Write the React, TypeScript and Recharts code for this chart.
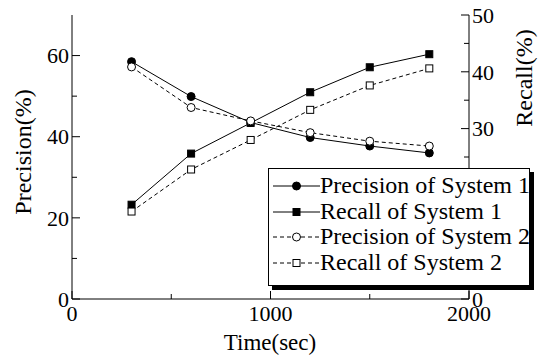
import { LineChart, Line, XAxis, YAxis, Legend } from 'recharts';

const times = [300, 600, 900, 1200, 1500, 1800];
const precision1 = [58.5, 49.9, 43.5, 39.8, 37.7, 36.0];
const recall1 = [16.6, 25.6, 31.0, 36.4, 40.8, 43.1];
const precision2 = [57.2, 47.2, 43.9, 41.0, 38.9, 37.7];
const recall2 = [15.4, 22.8, 28.0, 33.3, 37.6, 40.6];

const xTicks = [0, 500, 1000, 1500, 2000];
const leftTicks = [0, 10, 20, 30, 40, 50, 60];
const rightTicks = [0, 5, 10, 15, 20, 25, 30, 35, 40, 45, 50];

const seriesInfo = [
  { key: 'p1', name: 'Precision of System 1', axis: 'left', dashed: false, shape: 'circle', filled: true },
  { key: 'r1', name: 'Recall of System 1', axis: 'right', dashed: false, shape: 'square', filled: true },
  { key: 'p2', name: 'Precision of System 2', axis: 'left', dashed: true, shape: 'circle', filled: false },
  { key: 'r2', name: 'Recall of System 2', axis: 'right', dashed: true, shape: 'square', filled: false },
];

const data = times.map((t, i) => ({
  t,
  p1: precision1[i],
  r1: recall1[i],
  p2: precision2[i],
  r2: recall2[i],
}));

const FONT = 'Liberation Serif';
const DASH = '4 3';

function Marker({ cx, cy, shape, filled }: any) {
  if (cx == null || cy == null) return null;
  const fill = filled ? '#000' : '#fff';
  if (shape === 'square') {
    return <rect x={cx - 3.5} y={cy - 3.5} width={7} height={7} fill={fill} stroke="#000" strokeWidth={1} />;
  }
  return <circle cx={cx} cy={cy} r={4} fill={fill} stroke="#000" strokeWidth={1} />;
}

const BottomTick = ({ x, y, payload }: any) => {
  const major = payload.value % 1000 === 0;
  return (
    <g>
      <line x1={x} y1={y} x2={x} y2={y - (major ? 8 : 5)} stroke="#000" />
      {major && (
        <text x={x} y={y + 22} textAnchor="middle" fontFamily={FONT} fontSize={22} fill="#000">
          {payload.value}
        </text>
      )}
    </g>
  );
};

const TopTick = ({ x, y, payload }: any) => {
  const major = payload.value % 1000 === 0;
  return <line x1={x} y1={y} x2={x} y2={y + (major ? 8 : 5)} stroke="#000" />;
};

const LeftTick = ({ x, y, payload }: any) => {
  const major = payload.value % 20 === 0;
  return (
    <g>
      <line x1={x} y1={y} x2={x + (major ? 8 : 5)} y2={y} stroke="#000" />
      {major && (
        <text x={x - 3} y={y} dy="0.35em" textAnchor="end" fontFamily={FONT} fontSize={22} fill="#000">
          {payload.value}
        </text>
      )}
    </g>
  );
};

const RightTick = ({ x, y, payload }: any) => {
  const major = payload.value % 10 === 0;
  return (
    <g>
      <line x1={x} y1={y} x2={x - (major ? 8 : 5)} y2={y} stroke="#000" />
      {major && (
        <text x={x + 3} y={y} dy="0.35em" textAnchor="start" fontFamily={FONT} fontSize={22} fill="#000">
          {payload.value}
        </text>
      )}
    </g>
  );
};

const PrecisionTitle = () => (
  <text x={0} y={0} transform="translate(31,152) rotate(-90)" textAnchor="middle" fontFamily={FONT} fontSize={24} fill="#000">
    Precision(%)
  </text>
);

const RecallTitle = () => (
  <text x={0} y={0} transform="translate(532,78) rotate(-90)" textAnchor="middle" fontFamily={FONT} fontSize={24} fill="#000">
    Recall(%)
  </text>
);

const TimeTitle = () => (
  <text x={270} y={350} textAnchor="middle" fontFamily={FONT} fontSize={23} fill="#000">
    Time(sec)
  </text>
);

function LegendBox() {
  return (
    <div
      style={{
        width: 262,
        height: 118,
        boxSizing: 'border-box',
        background: '#fff',
        border: '1px solid #000',
        boxShadow: '4px 4px 0 #000',
        padding: '4px 0 0 4px',
        fontFamily: FONT,
        fontSize: 24,
        color: '#000',
      }}
    >
      {seriesInfo.map((s) => (
        <div key={s.key} style={{ display: 'flex', alignItems: 'center', height: 25.7, lineHeight: '25.7px', whiteSpace: 'nowrap' }}>
          <svg width={47} height={20} style={{ flex: 'none' }}>
            <line x1={0} y1={10} x2={47} y2={10} stroke="#000" strokeDasharray={s.dashed ? DASH : undefined} />
            <Marker cx={23.5} cy={10} shape={s.shape} filled={s.filled} />
          </svg>
          <span>{s.name}</span>
        </div>
      ))}
    </div>
  );
}

export default function App() {
  return (
    <div style={{ position: 'absolute', left: 0, top: 0, width: 541, height: 360, background: '#fff', fontFamily: FONT }}>
      <LineChart width={541} height={360} data={data} margin={{ top: 15, right: 12, bottom: 21, left: 12 }}>
        <XAxis
          dataKey="t"
          type="number"
          domain={[0, 2000]}
          ticks={xTicks}
          interval={0}
          height={40}
          tickSize={0}
          tickMargin={0}
          axisLine={{ stroke: '#000' }}
          tick={<BottomTick />}
          label={<TimeTitle />}
        />
        <XAxis
          xAxisId="top"
          orientation="top"
          dataKey="t"
          type="number"
          domain={[0, 2000]}
          ticks={xTicks}
          interval={0}
          height={0}
          tickSize={0}
          tickMargin={0}
          axisLine={{ stroke: '#000' }}
          tick={<TopTick />}
        />
        <YAxis
          yAxisId="left"
          type="number"
          domain={[0, 70]}
          ticks={leftTicks}
          interval={0}
          width={60}
          tickSize={0}
          tickMargin={0}
          axisLine={{ stroke: '#000' }}
          tick={<LeftTick />}
          label={<PrecisionTitle />}
        />
        <YAxis
          yAxisId="right"
          orientation="right"
          type="number"
          domain={[0, 50]}
          ticks={rightTicks}
          interval={0}
          width={60}
          tickSize={0}
          tickMargin={0}
          axisLine={{ stroke: '#000' }}
          tick={<RightTick />}
          label={<RecallTitle />}
        />
        {seriesInfo.map((s) => (
          <Line
            key={s.key}
            yAxisId={s.axis}
            dataKey={s.key}
            name={s.name}
            type="linear"
            stroke="#000"
            strokeWidth={1}
            strokeDasharray={s.dashed ? DASH : undefined}
            dot={(p: any) => <Marker key={`${s.key}-${p.index}`} cx={p.cx} cy={p.cy} shape={s.shape} filled={s.filled} />}
            activeDot={false}
            isAnimationActive={false}
          />
        ))}
        <Legend
          layout="horizontal"
          verticalAlign="middle"
          align="center"
          content={<LegendBox />}
          wrapperStyle={{ position: 'absolute', left: 268, top: 168, width: 'auto', height: 'auto' }}
        />
      </LineChart>
    </div>
  );
}
